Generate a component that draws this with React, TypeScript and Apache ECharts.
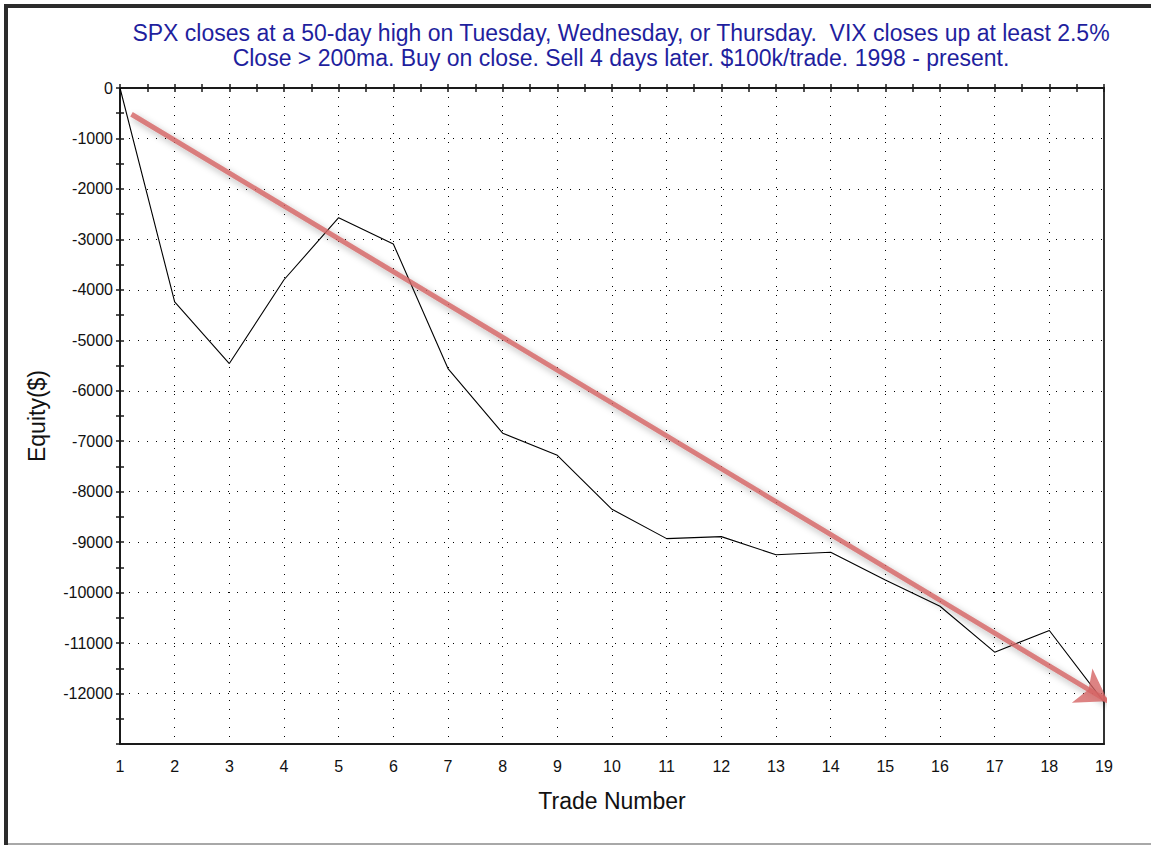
import React, { useEffect, useRef } from "react";
import * as echarts from "echarts";

const titleLines = [
  "SPX closes at a 50-day high on Tuesday, Wednesday, or Thursday.  VIX closes up at least 2.5%",
  "Close > 200ma. Buy on close. Sell 4 days later. $100k/trade. 1998 - present.",
];
const trades = [1, 2, 3, 4, 5, 6, 7, 8, 9, 10, 11, 12, 13, 14, 15, 16, 17, 18, 19];
const equity = [
  0, -4240, -5460, -3800, -2570, -3090, -5560, -6840, -7280, -8350, -8930, -8890,
  -9250, -9200, -9750, -10270, -11180, -10750, -12170,
];
const arrowStart = [1.21, -520];
const arrowEnd = [19.07, -12150];
const xName = "Trade Number";
const yName = "Equity($)";

const FONT = "Liberation Sans, Arial, sans-serif";

export default function App() {
  const ref = useRef<HTMLDivElement>(null);
  useEffect(() => {
    if (!ref.current) return;
    const chart = echarts.init(ref.current, null, { renderer: "svg" });
    const dotted = { color: "#000", width: 1, type: [1, 8] as any };
    const axisLineStyle = { color: "#1a1a1a", width: 2 };
    const labelStyle = { color: "#111", fontFamily: FONT, fontSize: 16 };
    chart.setOption({
      animation: false,
      backgroundColor: "#fff",
      textStyle: { fontFamily: FONT },
      grid: { left: 120, top: 88, width: 984, height: 656, containLabel: false },
      graphic: [
        { type: "rect", left: 4, top: 4, shape: { width: 4, height: 841 }, style: { fill: "#2b2b2b" } },
        { type: "rect", left: 4, top: 4, shape: { width: 1147, height: 4 }, style: { fill: "#2b2b2b" } },
        { type: "rect", left: 8, top: 843, shape: { width: 1143, height: 2 }, style: { fill: "#a8a8a8" } },
        {
          type: "text",
          x: 621,
          y: 45,
          style: {
            text: titleLines.join("\n"),
            fill: "#1f1f9e",
            font: `23px ${FONT}`,
            align: "center",
            verticalAlign: "middle",
            lineHeight: 25,
          },
        },
      ],
      xAxis: [
        {
          type: "value",
          position: "bottom",
          min: 1,
          max: 19,
          interval: 1,
          axisLine: { show: true, onZero: false, lineStyle: axisLineStyle },
          axisTick: { show: false },
          axisLabel: { ...labelStyle, margin: 14 },
          splitLine: { show: true, lineStyle: dotted },
          name: xName,
          nameLocation: "middle",
          nameGap: 45,
          nameTextStyle: { color: "#111", fontFamily: FONT, fontSize: 23 },
        },
        {
          type: "value",
          position: "top",
          min: 1,
          max: 19,
          interval: 0.5,
          axisLine: { show: true, onZero: false, lineStyle: axisLineStyle },
          axisTick: { show: true, length: 4, lineStyle: { color: "#1a1a1a", width: 1.5 } },
          axisLabel: { show: false },
          splitLine: { show: false },
        },
        {
          type: "value",
          position: "top",
          min: 1,
          max: 19,
          interval: 0.5,
          axisLine: { show: false },
          axisTick: { show: true, inside: true, length: 4, lineStyle: { color: "#1a1a1a", width: 1.5 } },
          axisLabel: { show: false },
          splitLine: { show: false },
        },
      ],
      yAxis: [
        {
          type: "value",
          position: "left",
          min: -13000,
          max: 0,
          interval: 500,
          axisLine: { show: true, onZero: false, lineStyle: axisLineStyle },
          axisTick: { show: true, length: 4, lineStyle: { color: "#1a1a1a", width: 1.5 } },
          axisLabel: {
            ...labelStyle,
            margin: 7,
            formatter: (v: number) => (v % 1000 === 0 && v !== -13000 ? String(v) : ""),
          },
          splitLine: { show: false },
          name: yName,
          nameLocation: "middle",
          nameGap: 72,
          nameTextStyle: { color: "#111", fontFamily: FONT, fontSize: 23 },
        },
        {
          type: "value",
          position: "left",
          min: -13000,
          max: 0,
          interval: 500,
          axisLine: { show: false },
          axisTick: { show: true, inside: true, length: 4, lineStyle: { color: "#1a1a1a", width: 1.5 } },
          axisLabel: { show: false },
          splitLine: { show: false },
        },
        {
          type: "value",
          position: "left",
          min: -13000,
          max: 0,
          interval: 1000,
          axisLine: { show: false },
          axisTick: { show: false },
          axisLabel: { show: false },
          splitLine: { show: true, lineStyle: dotted },
        },
        {
          type: "value",
          position: "right",
          min: -13000,
          max: 0,
          interval: 1000,
          axisLine: { show: true, onZero: false, lineStyle: { color: "#333", width: 2 } },
          axisTick: { show: false },
          axisLabel: { show: false },
          splitLine: { show: false },
        },
      ],
      series: [
        {
          type: "line",
          xAxisIndex: 0,
          yAxisIndex: 0,
          data: trades.map((t, i) => [t, equity[i]]),
          showSymbol: false,
          symbol: "none",
          lineStyle: { color: "#000", width: 1.1 },
          z: 3,
        },
        {
          type: "lines",
          coordinateSystem: "cartesian2d",
          xAxisIndex: 0,
          yAxisIndex: 0,
          silent: true,
          symbol: ["none", "arrow"],
          symbolSize: [24, 30],
          lineStyle: {
            color: "rgba(212,100,100,0.8)",
            width: 5,
            opacity: 1,
            shadowBlur: 7,
            shadowColor: "rgba(0,0,0,0.35)",
            shadowOffsetX: 2,
            shadowOffsetY: 3,
          },
          data: [{ coords: [arrowStart, arrowEnd] }],
          z: 4,
        },
      ],
    });
    return () => chart.dispose();
  }, []);
  return <div ref={ref} style={{ position: "fixed", left: 0, top: 0, width: 1151, height: 845 }} />;
}
